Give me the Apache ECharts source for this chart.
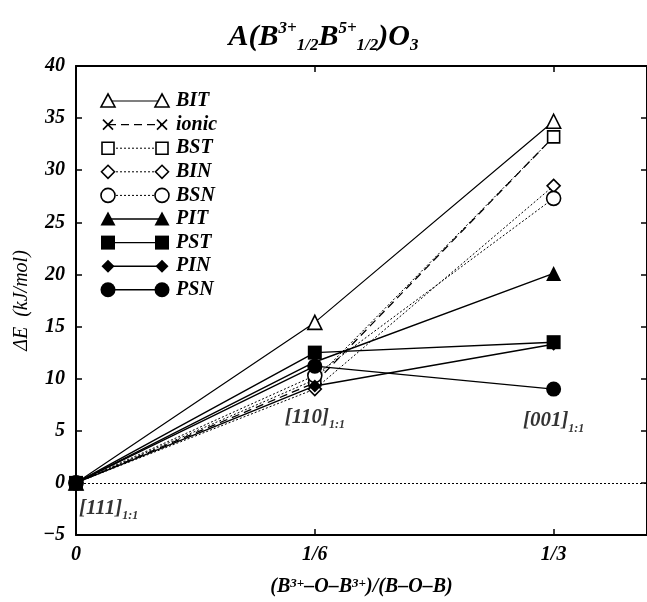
<!DOCTYPE html>
<html>
<head>
<meta charset="utf-8">
<script src="https://cdn.jsdelivr.net/npm/echarts@6/dist/echarts.min.js"></script>
<style>
  html, body { margin: 0; padding: 0; background: #fff; }
  #main { width: 647px; height: 602px; }
</style>
</head>
<body>
<div id="main"></div>
<script>
// x positions: fraction of B3+-O-B3+ bonds
var xValues = [0, 1/6, 1/3];
var xTickLabels = ['0', '1/6', '1/3'];

// energies (kJ/mol) at x = 0, 1/6, 1/3
var BIT   = [0, 15.4, 34.7];
var ionic = [0, 9.6, 33.2];
var BST   = [0, 9.9, 33.2];
var BIN   = [0, 9.0, 28.5];
var BSN   = [0, 10.3, 27.3];
var PIT   = [0, 11.6, 20.1];
var PST   = [0, 12.5, 13.5];
var PIN   = [0, 9.3, 13.3];
var PSN   = [0, 11.2, 9.0];

var seriesNames = ['BIT', 'ionic', 'BST', 'BIN', 'BSN', 'PIT', 'PST', 'PIN', 'PSN'];
var seriesValues = [BIT, ionic, BST, BIN, BSN, PIT, PST, PIN, PSN];

// orderings labels
var annotText = ['[111]', '[110]', '[001]'];
var annotX = [0, 1/6, 1/3];
var annotY = [-2.6, 6.1, 5.8];

var FONT = 'Liberation Serif';
var CROSS = 'path://M0,0L10,10M10,0L0,10';

// look of each series: symbol, filled, size, dash
var looks = {
  BIT:   { sym: 'triangle', fill: false, size: 14, dash: 'solid', w: 1.2 },
  ionic: { sym: 'cross',    fill: false, size: 10, dash: [8, 5],  w: 1.3 },
  BST:   { sym: 'rect',     fill: false, size: 12, dash: [2, 2],  w: 1 },
  BIN:   { sym: 'diamond',  fill: false, size: 13, dash: [2, 2],  w: 1 },
  BSN:   { sym: 'circle',   fill: false, size: 14, dash: [2, 2],  w: 1 },
  PIT:   { sym: 'triangle', fill: true,  size: 15, dash: 'solid', w: 1.4 },
  PST:   { sym: 'rect',     fill: true,  size: 14, dash: 'solid', w: 1.4 },
  PIN:   { sym: 'diamond',  fill: true,  size: 13, dash: 'solid', w: 1.4 },
  PSN:   { sym: 'circle',   fill: true,  size: 15, dash: 'solid', w: 1.4 }
};

var series = seriesNames.map(function (name, i) {
  var lk = looks[name];
  var s = {
    name: name,
    type: 'line',
    data: xValues.map(function (x, j) { return [x, seriesValues[i][j]]; }),
    symbol: lk.sym === 'cross' ? CROSS : lk.sym,
    symbolSize: lk.size,
    showAllSymbol: true,
    lineStyle: { color: '#000', width: lk.w, type: lk.dash },
    itemStyle: {
      color: lk.fill ? '#000' : (lk.sym === 'cross' ? 'rgba(0,0,0,0)' : '#fff'),
      borderColor: '#000',
      borderWidth: lk.fill ? 0 : 1.6
    },
    z: 3 + i
  };
  if (i === 0) {
    s.markLine = {
      silent: true, symbol: 'none', label: { show: false },
      lineStyle: { color: '#000', width: 1, type: [2, 2] },
      data: [{ yAxis: 0 }]
    };
  }
  return s;
});

var subRich = {
  a: { fontFamily: FONT, fontSize: 21, fontWeight: 'bold', fontStyle: 'italic', color: '#000', lineHeight: 24, verticalAlign: 'top' },
  b: { fontFamily: FONT, fontSize: 12, fontWeight: 'bold', fontStyle: 'italic', color: '#000', lineHeight: 12, verticalAlign: 'bottom' }
};

series.push({
  name: 'labels',
  type: 'scatter',
  symbolSize: 0,
  silent: true,
  z: 20,
  data: annotText.map(function (t, k) {
    return {
      value: [annotX[k], annotY[k]],
      label: {
        show: true,
        color: '#000',
        textBorderWidth: 0,
        position: k === 0 ? 'right' : 'inside',
        distance: 3,
        formatter: '{a|' + t + '}{b|1:1}',
        rich: subRich
      }
    };
  })
});

// legend drawn as line + two markers + name, like the original
var legTop = 101, legStep = 23.6, legX1 = 108, legX2 = 162, legText = 176;
function dashOf(d) {
  if (d === 'solid') return null;
  return d;
}
function symbolShapes(lk, cx, cy) {
  var st = { fill: lk.fill ? '#000' : '#fff', stroke: '#000', lineWidth: lk.fill ? 0 : 1.6 };
  var h = lk.size / 2;
  if (lk.sym === 'triangle') {
    return [{ type: 'polygon', shape: { points: [[cx, cy - h], [cx + h, cy + h * 0.85], [cx - h, cy + h * 0.85]] }, style: st }];
  }
  if (lk.sym === 'rect') {
    return [{ type: 'rect', shape: { x: cx - h, y: cy - h, width: lk.size, height: lk.size }, style: st }];
  }
  if (lk.sym === 'diamond') {
    return [{ type: 'polygon', shape: { points: [[cx, cy - h], [cx + h, cy], [cx, cy + h], [cx - h, cy]] }, style: st }];
  }
  if (lk.sym === 'circle') {
    return [{ type: 'circle', shape: { cx: cx, cy: cy, r: h }, style: st }];
  }
  // cross
  return [
    { type: 'line', shape: { x1: cx - h, y1: cy - h, x2: cx + h, y2: cy + h }, style: { stroke: '#000', lineWidth: 1.6 } },
    { type: 'line', shape: { x1: cx + h, y1: cy - h, x2: cx - h, y2: cy + h }, style: { stroke: '#000', lineWidth: 1.6 } }
  ];
}
var legendEls = [];
seriesNames.forEach(function (name, i) {
  var lk = looks[name];
  var y = legTop + i * legStep;
  legendEls.push({
    type: 'line',
    shape: { x1: legX1, y1: y, x2: legX2, y2: y },
    style: { stroke: '#000', lineWidth: lk.w, lineDash: dashOf(lk.dash) }
  });
  legendEls = legendEls.concat(symbolShapes(lk, legX1, y), symbolShapes(lk, legX2, y));
  legendEls.push({
    type: 'text',
    style: {
      x: legText, y: y, text: name, fill: '#000',
      font: 'italic bold 20px "' + FONT + '"', verticalAlign: 'middle'
    }
  });
});

var labelStyle = { fontFamily: FONT, fontSize: 20, fontWeight: 'bold', fontStyle: 'italic', color: '#000' };
var frameLine = { onZero: false, lineStyle: { color: '#000', width: 2 } };
var inTick = { show: true, inside: true, length: 6, lineStyle: { color: '#000', width: 1.5 } };
var xMax = 0.3985; // right frame falls at the picture's edge

var option = {
  animation: false,
  backgroundColor: '#fff',
  title: {
    text: '{m|A(B}{sup|3+}{sub|1/2}{m|B}{sup|5+}{sub|1/2}{m|)O}{sub|3}',
    left: 'center',
    top: 15,
    textStyle: {
      rich: {
        m:   { fontFamily: FONT, fontSize: 30, fontWeight: 'bold', fontStyle: 'italic', color: '#000', lineHeight: 34 },
        sup: { fontFamily: FONT, fontSize: 17, fontWeight: 'bold', fontStyle: 'italic', color: '#000', lineHeight: 17, verticalAlign: 'top' },
        sub: { fontFamily: FONT, fontSize: 17, fontWeight: 'bold', fontStyle: 'italic', color: '#000', lineHeight: 17, verticalAlign: 'bottom' }
      }
    }
  },
  grid: { left: 76, top: 66, bottom: 59, width: 572 },
  xAxis: [{
    type: 'value', min: 0, max: xMax, interval: 1/6,
    position: 'bottom',
    axisLine: frameLine,
    axisTick: inTick,
    splitLine: { show: false },
    axisLabel: Object.assign({
      margin: 10, showMaxLabel: false,
      formatter: function (v) {
        for (var k = 0; k < xValues.length; k++) if (Math.abs(v - xValues[k]) < 1e-6) return xTickLabels[k];
        return '';
      }
    }, labelStyle),
    name: '(B{sup|3+}–O–B{sup|3+})/(B–O–B)',
    nameLocation: 'middle',
    nameGap: 42,
    nameTextStyle: {
      fontFamily: FONT, fontSize: 20, fontWeight: 'bold', fontStyle: 'italic', color: '#000',
      rich: {
        sup: { fontFamily: FONT, fontSize: 13, fontWeight: 'bold', fontStyle: 'italic', color: '#000', lineHeight: 13, verticalAlign: 'top' }
      }
    }
  }, {
    type: 'value', min: 0, max: xMax, interval: 1/6,
    position: 'top',
    axisLine: frameLine,
    axisTick: inTick,
    axisLabel: { show: false },
    splitLine: { show: false }
  }],
  yAxis: [{
    type: 'value', min: -5, max: 40, interval: 5,
    position: 'left',
    axisLine: Object.assign({ show: true }, frameLine),
    axisTick: inTick,
    splitLine: { show: false },
    axisLabel: Object.assign({
      margin: 11,
      formatter: function (v) { return String(v).replace('-', '−'); }
    }, labelStyle),
    name: 'ΔE  (kJ/mol)',
    nameLocation: 'middle',
    nameGap: 41,
    nameTextStyle: { fontFamily: FONT, fontSize: 20, fontStyle: 'italic', color: '#000' }
  }, {
    type: 'value', min: -5, max: 40, interval: 5,
    position: 'right',
    axisLine: Object.assign({ show: true }, frameLine),
    axisTick: inTick,
    axisLabel: { show: false },
    splitLine: { show: false }
  }],
  graphic: legendEls,
  series: series
};

var chart = echarts.init(document.getElementById('main'), null, { renderer: 'canvas' });
chart.setOption(option);
</script>
</body>
</html>
